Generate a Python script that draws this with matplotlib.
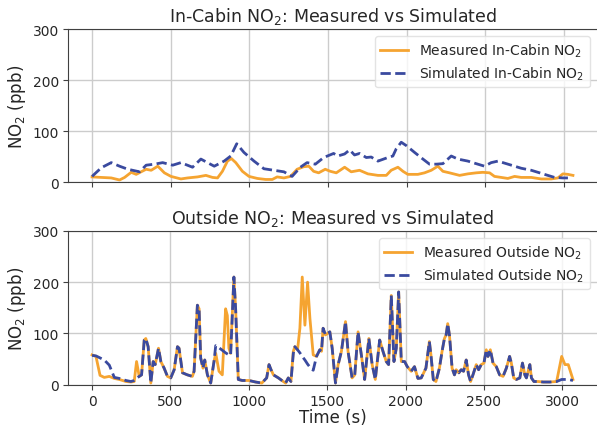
import numpy as np
import matplotlib
matplotlib.use("Agg")
import matplotlib.pyplot as plt

# in-cabin series (time in s, NO2 in ppb)
cabin_meas_t = [0, 59, 122, 175, 207, 249, 281, 312, 344, 376, 418, 460, 502, 565, 608,
                671, 724, 766, 798, 829, 861, 886, 914, 956, 998, 1051, 1104, 1146, 1177,
                1220, 1262, 1304, 1346, 1378, 1409, 1441, 1483, 1515, 1553, 1606, 1648,
                1701, 1754, 1818, 1871, 1902, 1945, 1977, 2008, 2072, 2114, 2157, 2199,
                2231, 2273, 2337, 2390, 2443, 2485, 2528, 2559, 2602, 2644, 2687, 2729,
                2793, 2856, 2920, 2962, 2994, 3026, 3058]
cabin_meas = [10, 9, 8, 4, 9, 19, 15, 20, 25, 23, 31, 18, 11, 6, 8,
              10, 13, 9, 8, 21, 41, 46, 38, 21, 11, 7, 5, 5, 10,
              8, 11, 25, 30, 31, 21, 18, 25, 21, 18, 29, 20,
              23, 16, 13, 13, 23, 29, 21, 15, 15, 18, 23, 31,
              21, 18, 13, 16, 18, 19, 18, 11, 9, 7, 11, 9,
              9, 6, 6, 8, 16, 15, 13]

cabin_sim_t = [0, 59, 122, 175, 228, 302, 344, 397, 449, 513, 565, 639, 692, 734, 777,
               840, 882, 920, 966, 1030, 1093, 1156, 1220, 1272, 1325, 1367, 1420, 1473,
               1536, 1563, 1606, 1638, 1669, 1701, 1744, 1775, 1818, 1881, 1913, 1934,
               1966, 2000, 2051, 2104, 2146, 2189, 2231, 2284, 2326, 2390, 2453, 2496,
               2538, 2581, 2634, 2687, 2729, 2793, 2846, 2898, 2941, 2994, 3026]
cabin_sim = [11, 28, 38, 31, 25, 20, 33, 35, 38, 33, 38, 29, 45, 38, 31,
             41, 51, 75, 58, 41, 26, 23, 20, 11, 29, 38, 35, 48,
             56, 51, 55, 63, 53, 56, 48, 49, 41, 48, 51, 65,
             78, 71, 58, 45, 35, 35, 36, 51, 45, 41, 35, 31,
             38, 41, 36, 31, 27, 23, 18, 13, 9, 8, 8]

# outside series, measured and simulated share the time base
outside_t = [0, 25, 51, 78, 110, 142, 174, 216, 248, 269, 284, 301, 316, 333, 343, 358,
             375, 390, 403, 424, 439, 460, 481, 502, 524, 545, 555, 577, 608, 640, 651,
             672, 683, 693, 708, 719, 736, 757, 778, 789, 810, 831, 852, 863, 873, 884,
             905, 916, 933, 958, 1001, 1043, 1083, 1114, 1129, 1142, 1157, 1189, 1220,
             1235, 1252, 1269, 1284, 1294, 1311, 1326, 1341, 1358, 1375, 1390, 1411,
             1432, 1453, 1464, 1474, 1489, 1517, 1532, 1553, 1570, 1591, 1617, 1633,
             1659, 1676, 1697, 1718, 1739, 1766, 1787, 1807, 1835, 1856, 1877, 1892,
             1909, 1926, 1941, 1956, 1973, 1994, 2011, 2036, 2057, 2079, 2100, 2130,
             2152, 2162, 2177, 2194, 2216, 2233, 2248, 2259, 2269, 2280, 2297, 2312,
             2323, 2340, 2355, 2370, 2387, 2402, 2415, 2430, 2451, 2466, 2483, 2500,
             2515, 2526, 2541, 2558, 2579, 2600, 2622, 2643, 2664, 2675, 2690, 2707,
             2729, 2746, 2761, 2771, 2793, 2803, 2819, 2846, 2878, 2921, 2964, 2996,
             3017, 3038, 3068]
outside_meas = [58, 55, 18, 14, 16, 12, 10, 6, 5, 6, 45, 16, 19, 87, 90, 74,
                3, 45, 39, 71, 45, 32, 16, 13, 29, 74, 71, 23, 19, 16, 26,
                155, 148, 52, 32, 48, 19, 3, 45, 61, 26, 19, 148, 135, 71, 61,
                210, 148, 10, 8, 8, 5, 3, 13, 39, 29, 19, 13, 6,
                3, 13, 6, 65, 74, 68, 110, 210, 116, 200, 129, 58,
                55, 68, 65, 110, 97, 103, 71, 3, 39, 65, 123, 65,
                13, 19, 103, 58, 10, 90, 39, 10, 87, 65, 45, 39,
                174, 45, 71, 181, 45, 45, 35, 26, 35, 12, 13, 32,
                84, 58, 10, 6, 32, 65, 90, 97, 119, 97, 32, 19,
                29, 23, 29, 26, 48, 19, 6, 19, 39, 29, 39, 42,
                68, 55, 68, 42, 35, 19, 16, 32, 55, 42, 13, 10,
                13, 42, 19, 13, 39, 13, 6, 6, 5, 5, 6, 55,
                39, 39, 10]
outside_sim = [57, 56, 52, 48, 38, 14, 12, 8, 6, 8, 12, 16, 19, 87, 90, 74,
               3, 45, 39, 71, 45, 32, 16, 13, 29, 74, 71, 23, 19, 16, 26,
               155, 148, 52, 32, 48, 19, 3, 45, 76, 72, 67, 62, 60, 58, 57,
               210, 148, 10, 8, 8, 5, 3, 13, 39, 29, 19, 13, 6,
               3, 13, 6, 61, 74, 68, 62, 55, 48, 40, 34, 28,
               55, 68, 65, 110, 97, 103, 71, 3, 39, 65, 123, 65,
               13, 19, 103, 58, 10, 90, 39, 10, 87, 65, 45, 39,
               174, 45, 71, 181, 45, 45, 35, 26, 35, 12, 13, 32,
               84, 58, 10, 6, 32, 65, 90, 97, 119, 97, 32, 19,
               29, 23, 29, 26, 48, 19, 6, 19, 39, 29, 39, 42,
               68, 55, 68, 42, 35, 19, 16, 32, 55, 42, 13, 10,
               13, 42, 19, 13, 39, 13, 6, 6, 5, 5, 6, 10,
               10, 10, 8]

meas_color = "#F5A431"
sim_color = "#3A4A9F"
text_color = "#262626"

plt.rcParams["font.family"] = "DejaVu Sans"
plt.rcParams["text.color"] = text_color
plt.rcParams["axes.labelcolor"] = text_color
plt.rcParams["xtick.color"] = text_color
plt.rcParams["ytick.color"] = text_color

fig = plt.figure(figsize=(5.97, 4.27), dpi=100)
ax1 = fig.add_axes([0.1139, 0.5714, 0.8861, 0.3583])
ax2 = fig.add_axes([0.1139, 0.0970, 0.8861, 0.3598])

panels = [
    (ax1, cabin_meas_t, cabin_meas, cabin_sim_t, cabin_sim, "In-Cabin"),
    (ax2, outside_t, outside_meas, outside_t, outside_sim, "Outside"),
]
for ax, tm, vm, ts, vs, name in panels:
    ax.plot(tm, vm, color=meas_color, lw=2, label=f"Measured {name} NO$_2$")
    ax.plot(ts, vs, color=sim_color, lw=2, ls="--", label=f"Simulated {name} NO$_2$")
    ax.set_ylim(0, 300)
    ax.set_yticks([0, 100, 200, 300])
    ax.set_xticks(np.arange(0, 3001, 500))
    ax.grid(True, color="#cccccc", lw=1)
    ax.set_axisbelow(True)
    ax.set_ylabel("NO$_2$ (ppb)", fontsize=12, labelpad=3)
    ax.set_title(f"{name} NO$_2$: Measured vs Simulated", fontsize=12.5)
    ax.tick_params(labelsize=10, length=3.5, pad=3, color="#404040")
    for s in ["left", "top", "bottom"]:
        ax.spines[s].set_color("#404040")
    ax.spines["right"].set_visible(False)
    ax.legend(loc="upper right", fontsize=10, framealpha=0.8, edgecolor="#dddddd",
              labelspacing=0.4)

ax1.tick_params(labelbottom=False)
ax2.set_xlabel("Time (s)", fontsize=12, labelpad=0)

fig.savefig("out.png", dpi=100)
